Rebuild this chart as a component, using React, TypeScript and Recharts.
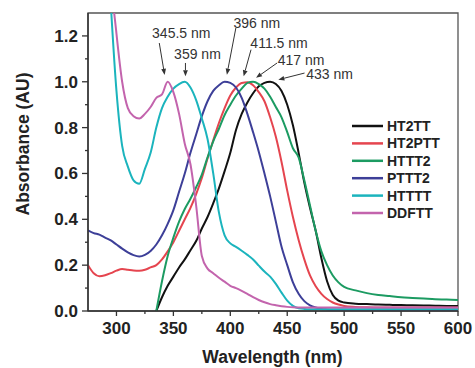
import { LineChart, Line, XAxis, YAxis, ReferenceArea, ReferenceLine, Legend } from 'recharts';

const FONT = '"Liberation Sans", Arial, sans-serif';

// wavelength grid (nm)
const wavelengths = [
  275, 280, 285, 290, 295, 300, 305, 310, 315, 320, 325, 330, 335, 340, 345, 350, 355, 360, 365, 370,
  375, 380, 385, 390, 395, 400, 405, 410, 415, 420, 425, 430, 435, 440, 445, 450, 455, 460, 465, 470,
  475, 480, 485, 490, 495, 500, 510, 520, 530, 540, 550, 560, 570, 580, 590, 600,
];

const ht2tt = [
  null, null, null, null, null, null, null, null, null, null, null, null, 0, 0.06, 0.11, 0.15, 0.19, 0.225, 0.265, 0.305,
  0.36, 0.41, 0.47, 0.535, 0.61, 0.69, 0.79, 0.86, 0.91, 0.95, 0.98, 0.995, 1.0, 0.99, 0.96, 0.9, 0.81, 0.69, 0.56, 0.45,
  0.35, 0.23, 0.13, 0.07, 0.045, 0.037, 0.032, 0.03, 0.028, 0.027, 0.026, 0.025, 0.024, 0.023, 0.022, 0.022,
];

const ht2ptt = [
  0.2, 0.165, 0.152, 0.156, 0.165, 0.176, 0.183, 0.18, 0.177, 0.176, 0.18, 0.19, 0.2, 0.225, 0.26, 0.3, 0.35, 0.4, 0.45, 0.51,
  0.58, 0.665, 0.745, 0.82, 0.885, 0.94, 0.975, 0.995, 0.998, 0.985, 0.955, 0.915, 0.845, 0.76, 0.65, 0.525, 0.41, 0.31, 0.225, 0.155,
  0.108, 0.075, 0.052, 0.037, 0.028, 0.022, 0.018, 0.016, 0.015, 0.015, 0.015, 0.015, 0.015, 0.015, 0.015, 0.015,
];

const httt2 = [
  null, null, null, null, null, null, null, null, null, null, null, null, 0, 0.13, 0.24, 0.32, 0.39, 0.445, 0.49, 0.54,
  0.595, 0.67, 0.74, 0.795, 0.855, 0.9, 0.94, 0.97, 0.995, 1.0, 0.99, 0.97, 0.935, 0.89, 0.845, 0.78, 0.71, 0.67, 0.57, 0.46,
  0.35, 0.26, 0.2, 0.155, 0.125, 0.105, 0.09, 0.078, 0.07, 0.065, 0.06, 0.057, 0.054, 0.051, 0.05, 0.048,
];

const pttt2 = [
  0.352, 0.34, 0.333, 0.32, 0.308, 0.29, 0.272, 0.256, 0.244, 0.238, 0.245, 0.262, 0.29, 0.33, 0.38, 0.44, 0.52, 0.6, 0.69, 0.77,
  0.85, 0.915, 0.96, 0.985, 1.0, 0.995, 0.975, 0.93, 0.86, 0.78, 0.695, 0.6, 0.5, 0.39, 0.28, 0.2, 0.125, 0.075, 0.043, 0.025,
  0.015, 0.009, 0.007, 0.006, 0.006, 0.006, 0.006, 0.006, 0.006, 0.006, 0.006, 0.006, 0.006, 0.006, 0.006, 0.006,
];

const httttt = [
  3.6, 3.0, 2.4, 1.8, 1.34, 0.96, 0.72, 0.63, 0.57, 0.555, 0.62, 0.69, 0.8, 0.885, 0.935, 0.97, 0.99, 1.0, 0.975, 0.92,
  0.84, 0.75, 0.6, 0.43, 0.33, 0.295, 0.28, 0.263, 0.245, 0.225, 0.198, 0.172, 0.15, 0.118, 0.08, 0.045, 0.022, 0.012, 0.009, 0.008,
  0.008, 0.008, 0.008, 0.008, 0.008, 0.008, 0.008, 0.008, 0.008, 0.008, 0.008, 0.008, 0.008, 0.008, 0.008, 0.008,
];

const ddftt = [
  4.2, 3.4, 2.6, 1.95, 1.47, 1.21, 1.0, 0.885, 0.85, 0.84, 0.86, 0.89, 0.93, 0.945, 1.0, 0.955, 0.86, 0.73, 0.64, 0.46,
  0.24, 0.185, 0.165, 0.145, 0.128, 0.11, 0.1, 0.088, 0.075, 0.06, 0.048, 0.038, 0.03, 0.025, 0.021, 0.018, 0.016, 0.015, 0.015, 0.015,
  0.015, 0.015, 0.015, 0.015, 0.015, 0.015, 0.015, 0.015, 0.015, 0.015, 0.015, 0.015, 0.015, 0.015, 0.015, 0.015,
];

const seriesNames = ['HT2TT', 'HT2PTT', 'HTTT2', 'PTTT2', 'HTTTT', 'DDFTT'];
const seriesValues = [ht2tt, ht2ptt, httt2, pttt2, httttt, ddftt];
const seriesColors = ['#111111', '#e5454f', '#1c9b62', '#3d3f98', '#1bb4bd', '#c364ad'];

const xTicks = [300, 325, 350, 375, 400, 425, 450, 475, 500, 525, 550, 575, 600];
const yTicks = [0, 0.1, 0.2, 0.3, 0.4, 0.5, 0.6, 0.7, 0.8, 0.9, 1.0, 1.1, 1.2];

// peak labels: arrow tail -> tip in data units, text offset in px from tail
const peakLabels = [
  { text: '345.5 nm', from: [337.6, 1.169], to: [342.3, 1.03], dx: 22, dy: -5 },
  { text: '359 nm', from: [360.6, 1.082], to: [360.6, 1.024], dx: 12, dy: -4 },
  { text: '396 nm', from: [404.9, 1.235], to: [397.0, 1.031], dx: 21, dy: 0 },
  { text: '411.5 nm', from: [418.2, 1.14], to: [411.7, 1.024], dx: 28, dy: -2 },
  { text: '417 nm', from: [441.1, 1.082], to: [422.6, 1.017], dx: 24, dy: 2 },
  { text: '433 nm', from: [465.2, 1.038], to: [442.2, 1.009], dx: 25, dy: 6 },
];

const data = wavelengths.map((wl, i) => {
  const row: Record<string, number | null> = { wl };
  seriesNames.forEach((name, s) => {
    row[name] = seriesValues[s][i];
  });
  return row;
});

const XTick = ({ x, y, payload }: any) => {
  const major = payload.value % 50 === 0;
  return (
    <g>
      <line x1={x} x2={x} y1={y} y2={y + (major ? 5 : 3)} stroke="#333" strokeWidth={1.3} />
      {major && (
        <text x={x} y={y + 23} textAnchor="middle" fontSize={17} fontWeight="bold" fill="#222" fontFamily={FONT}>
          {payload.value}
        </text>
      )}
    </g>
  );
};

const YTick = ({ x, y, payload }: any) => {
  const major = Math.round(payload.value * 10) % 2 === 0;
  return (
    <g>
      <line x1={x} x2={x - (major ? 6 : 3)} y1={y} y2={y} stroke="#333" strokeWidth={1.3} />
      {major && (
        <text x={x - 10} y={y + 6} textAnchor="end" fontSize={17} fontWeight="bold" fill="#222" fontFamily={FONT}>
          {payload.value.toFixed(1)}
        </text>
      )}
    </g>
  );
};

const PeakArrow = ({ x1, y1, x2, y2, text, dx, dy }: any) => {
  const a = Math.atan2(y2 - y1, x2 - x1);
  const len = 6;
  const half = 2.4;
  const bx = x2 - len * Math.cos(a);
  const by = y2 - len * Math.sin(a);
  const pts = `${x2},${y2} ${bx + half * Math.sin(a)},${by - half * Math.cos(a)} ${bx - half * Math.sin(a)},${by + half * Math.cos(a)}`;
  return (
    <g>
      <line x1={x1} y1={y1} x2={bx} y2={by} stroke="#333" strokeWidth={1} />
      <polygon points={pts} fill="#333" />
      <text x={x1 + dx} y={y1 + dy} textAnchor="middle" fontSize={14} fill="#333" fontFamily={FONT}>
        {text}
      </text>
    </g>
  );
};

const LegendBox = () => (
  <svg width={115} height={110}>
    {seriesNames.map((name, i) => {
      const cy = 11 + i * 17.4;
      return (
        <g key={name}>
          <line x1={7} x2={38} y1={cy} y2={cy} stroke={seriesColors[i]} strokeWidth={2.5} />
          <text x={42} y={cy + 5} fontSize={14} fontWeight="bold" fill="#222" fontFamily={FONT}>
            {name}
          </text>
        </g>
      );
    })}
  </svg>
);

export default function App() {
  return (
    <div style={{ position: 'absolute', left: 0, top: 0, background: '#fff' }}>
      <LineChart width={475} height={368} data={data} margin={{ top: 13, right: 17, left: 0, bottom: 0 }}>
        <XAxis
          dataKey="wl"
          type="number"
          domain={[275, 600]}
          ticks={xTicks}
          interval={0}
          height={57}
          tickSize={0}
          tickMargin={0}
          tick={<XTick />}
          axisLine={{ stroke: '#333', strokeWidth: 1.5 }}
          allowDataOverflow
        />
        <YAxis
          type="number"
          domain={[0, 1.3]}
          ticks={yTicks}
          interval={0}
          width={88}
          tickSize={0}
          tickMargin={0}
          tick={<YTick />}
          axisLine={{ stroke: '#333', strokeWidth: 1.5 }}
          allowDataOverflow
        />
        <ReferenceArea x1={275} x2={600} y1={0} y2={1.3} fill="none" stroke="#555" strokeWidth={1.3} />
        {seriesNames.map((name, i) => (
          <Line
            key={name}
            dataKey={name}
            name={name}
            type="monotone"
            stroke={seriesColors[i]}
            strokeWidth={2}
            dot={false}
            isAnimationActive={false}
          />
        ))}
        {peakLabels.map((p) => (
          <ReferenceLine
            key={p.text}
            segment={[
              { x: p.from[0], y: p.from[1] },
              { x: p.to[0], y: p.to[1] },
            ]}
            shape={(props: any) => <PeakArrow {...props} text={p.text} dx={p.dx} dy={p.dy} />}
          />
        ))}
        <Legend
          layout="vertical"
          align="center"
          verticalAlign="middle"
          content={<LegendBox />}
          wrapperStyle={{ position: 'absolute', left: 345, top: 115, width: 115, height: 110 }}
        />
        <text
          x={272.5}
          y={362.5}
          textAnchor="middle"
          fontSize={17.5}
          fontWeight="bold"
          fill="#222"
          fontFamily={FONT}
        >
          Wavelength (nm)
        </text>
        <text
          x={29}
          y={144}
          transform="rotate(-90 29 144)"
          textAnchor="middle"
          fontSize={17.5}
          fontWeight="bold"
          fill="#222"
          fontFamily={FONT}
        >
          Absorbance (AU)
        </text>
      </LineChart>
    </div>
  );
}
